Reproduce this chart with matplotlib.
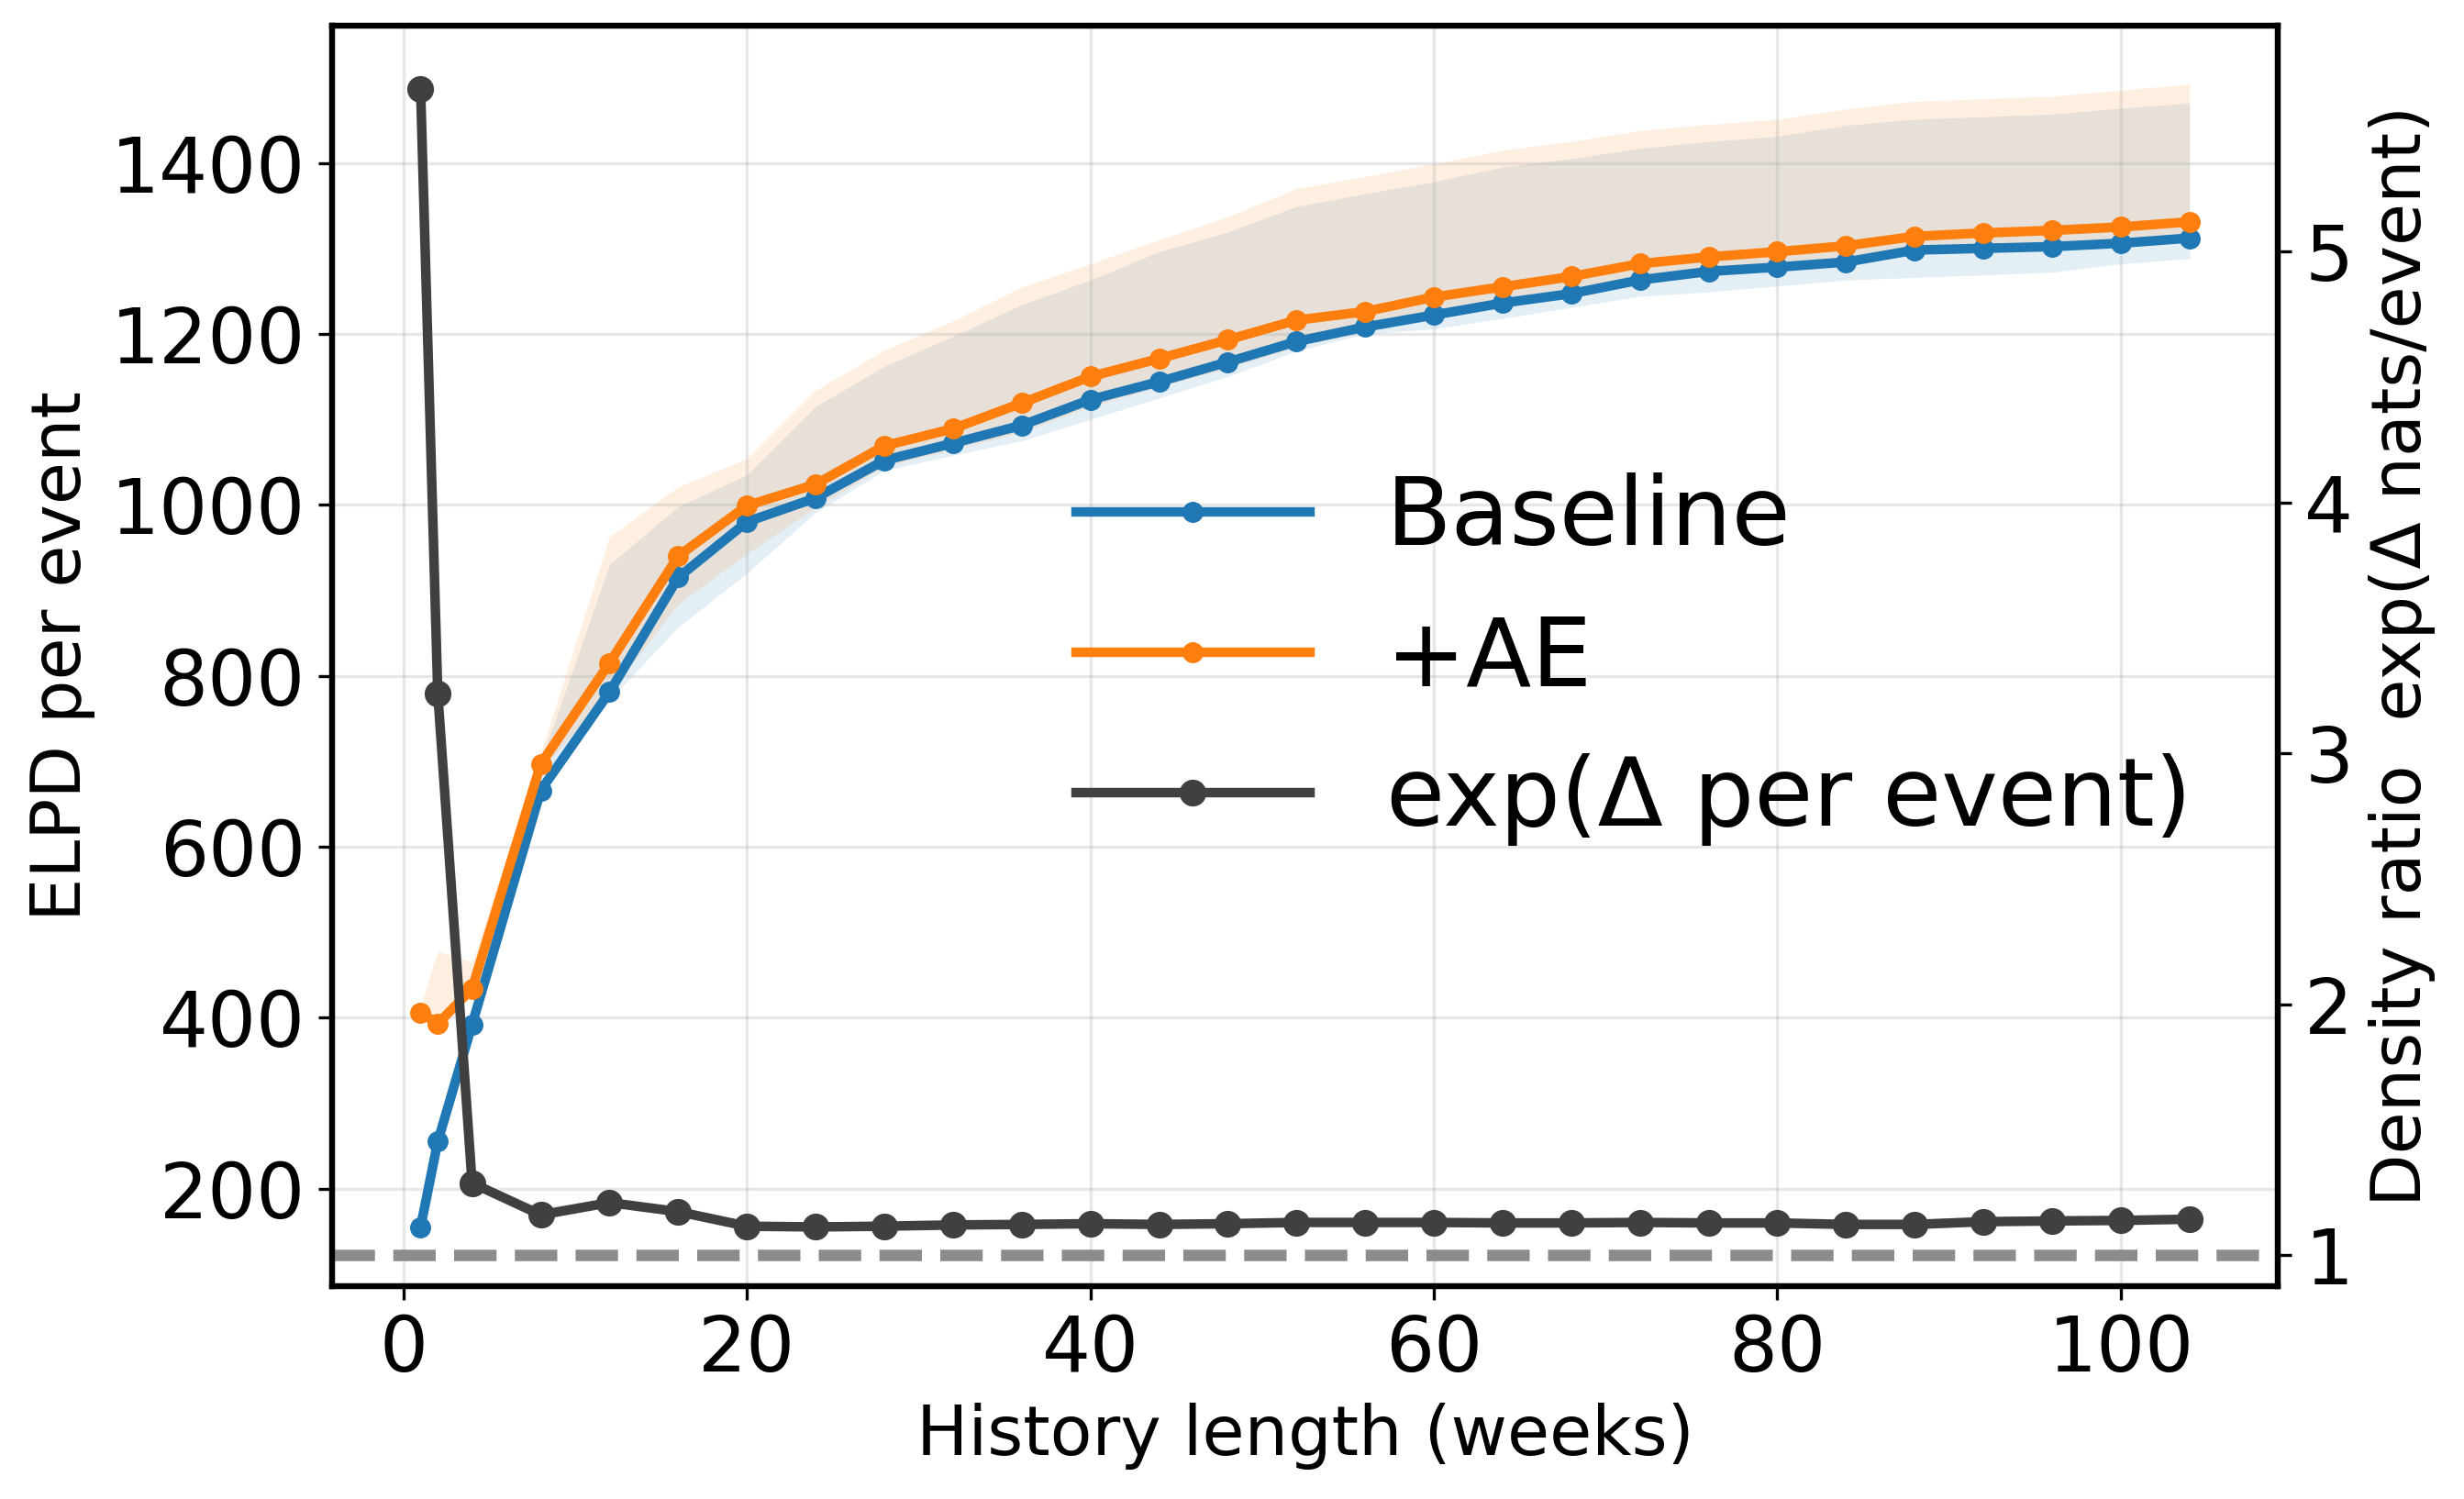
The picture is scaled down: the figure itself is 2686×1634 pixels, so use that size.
import matplotlib
matplotlib.use("Agg")
import matplotlib.pyplot as plt
import numpy as np

weeks = [1, 2, 4, 8, 12, 16, 20, 24, 28, 32, 36, 40, 44, 48, 52, 56, 60, 64, 68,
         72, 76, 80, 84, 88, 92, 96, 100, 104]

baseline_mean = [155, 255, 392, 666, 781, 915, 980, 1008, 1052, 1072, 1093, 1123, 1144,
                 1167, 1191, 1208, 1222, 1236, 1247, 1263, 1273, 1278, 1284, 1298, 1300,
                 1302, 1306, 1312]
baseline_lo = [152, 250, 385, 660, 772, 857, 920, 991, 1040, 1058, 1075, 1100, 1125,
               1150, 1180, 1200, 1206, 1218, 1231, 1244, 1249, 1256, 1263, 1266, 1269,
               1272, 1282, 1288]
baseline_hi = [160, 262, 400, 700, 930, 998, 1035, 1115, 1162, 1197, 1234, 1263, 1296,
               1319, 1349, 1364, 1378, 1395, 1405, 1417, 1425, 1431, 1444, 1451, 1454,
               1457, 1464, 1470]

ae_mean = [406, 393, 434, 697, 815, 940, 999, 1024, 1069, 1089, 1119, 1150, 1171, 1193,
           1216, 1226, 1243, 1255, 1267, 1282, 1290, 1296, 1303, 1314, 1318, 1321, 1325,
           1331]
ae_lo = [400, 385, 430, 690, 780, 884, 943, 997, 1045, 1065, 1085, 1115, 1138, 1160,
         1185, 1203, 1218, 1232, 1244, 1260, 1270, 1276, 1282, 1295, 1298, 1300, 1304,
         1310]
ae_hi = [415, 478, 465, 710, 963, 1021, 1054, 1134, 1181, 1215, 1255, 1282, 1310, 1337,
         1370, 1384, 1399, 1415, 1425, 1438, 1445, 1451, 1463, 1472, 1475, 1478, 1485,
         1492]

ratio_mean = [5.65, 3.24, 1.287, 1.16, 1.209, 1.173, 1.115, 1.112, 1.115, 1.12, 1.122,
              1.125, 1.122, 1.125, 1.13, 1.13, 1.13, 1.128, 1.128, 1.13, 1.128, 1.128,
              1.122, 1.122, 1.133, 1.136, 1.138, 1.143]
ratio_lo = [5.64, 3.23, 1.28, 1.155, 1.20, 1.165, 1.108, 1.106, 1.108, 1.113, 1.115,
            1.118, 1.115, 1.118, 1.123, 1.123, 1.123, 1.121, 1.121, 1.123, 1.121, 1.121,
            1.115, 1.115, 1.126, 1.129, 1.131, 1.136]
ratio_hi = [5.67, 3.26, 1.30, 1.19, 1.225, 1.185, 1.122, 1.118, 1.122, 1.127, 1.129,
            1.132, 1.129, 1.132, 1.137, 1.137, 1.137, 1.135, 1.135, 1.137, 1.135, 1.135,
            1.129, 1.129, 1.140, 1.143, 1.145, 1.150]

C_BLUE = "#1f77b4"
C_ORANGE = "#ff7f0e"
C_DARK = "#404040"

fig = plt.figure(figsize=(2686 / 300, 1634 / 300), dpi=300)
ax = fig.add_axes([0.1348, 0.142, 0.9245 - 0.1348, 0.9826 - 0.142])
ax2 = ax.twinx()

ax.fill_between(weeks, baseline_lo, baseline_hi, color=C_BLUE, alpha=0.12, linewidth=0)
ax.fill_between(weeks, ae_lo, ae_hi, color=C_ORANGE, alpha=0.12, linewidth=0)
l1, = ax.plot(weeks, baseline_mean, color=C_BLUE, lw=2.5, marker="o", ms=4.5,
              label="Baseline")
l2, = ax.plot(weeks, ae_mean, color=C_ORANGE, lw=2.5, marker="o", ms=4.5, label="+AE")

ax2.fill_between(weeks, ratio_lo, ratio_hi, color=C_DARK, alpha=0.12, linewidth=0)
l3, = ax2.plot(weeks, ratio_mean, color=C_DARK, lw=2.5, marker="o", ms=6,
               label="exp(Δ per event)")
ax2.axhline(1.0, color="#8c8c8c", lw=3, ls="--")

ax.set_xlim(-4.15, 109.15)
ax.set_ylim(86, 1560)
ax2.set_ylim(0.876, 5.90)

ax.set_xticks([0, 20, 40, 60, 80, 100])
ax.set_yticks([200, 400, 600, 800, 1000, 1200, 1400])
ax2.set_yticks([1, 2, 3, 4, 5])

ax.grid(True, alpha=0.3)
ax.tick_params(labelsize=20)
ax2.tick_params(labelsize=20)

ax.set_xlabel("History length (weeks)", fontsize=18)
ax.set_ylabel("ELPD per event", fontsize=18)
ax2.set_ylabel("Density ratio  exp(Δ nats/event)", fontsize=18)

for a in (ax, ax2):
    for s in a.spines.values():
        s.set_linewidth(1.5)

leg = ax2.legend(handles=[l1, l2, l3], loc="center", bbox_to_anchor=(0.669, 0.4975),
                 frameon=False, fontsize=25, handlelength=2.45, labelspacing=0.5)

fig.savefig("out.png", dpi=300)
